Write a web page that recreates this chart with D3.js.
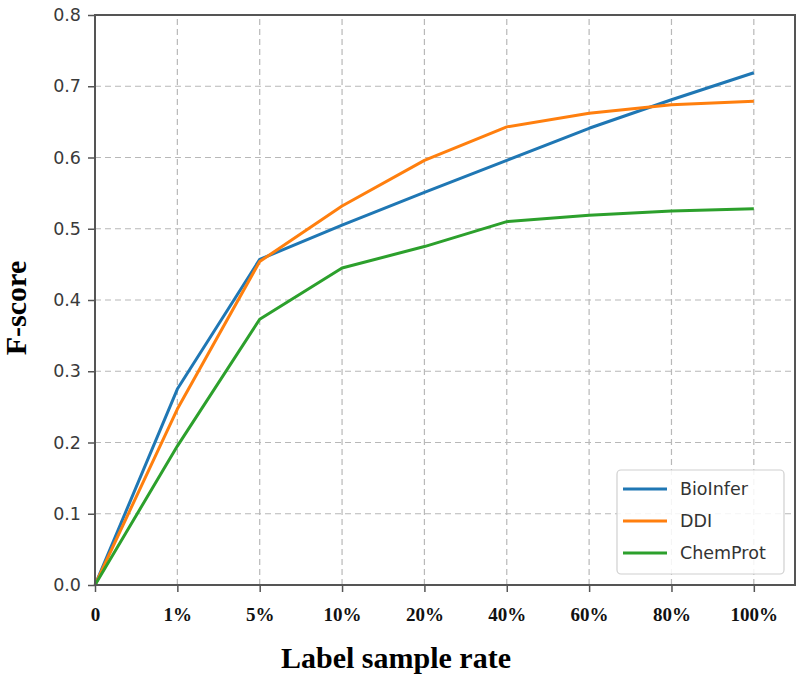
<!DOCTYPE html>
<html>
<head>
<meta charset="utf-8">
<script src="https://cdn.jsdelivr.net/npm/d3@7"></script>
<style>
  html, body { margin: 0; padding: 0; background: #fff; }
  svg { display: block; }
</style>
</head>
<body>
<svg id="chart" width="800" height="685"></svg>
<script>
const categories = ["0", "1%", "5%", "10%", "20%", "40%", "60%", "80%", "100%"];
const bioInfer = [0.0, 0.275, 0.457, 0.505, 0.551, 0.596, 0.641, 0.681, 0.719];
const ddi      = [0.0, 0.247, 0.454, 0.532, 0.596, 0.643, 0.662, 0.674, 0.679];
const chemProt = [0.0, 0.195, 0.373, 0.445, 0.475, 0.510, 0.519, 0.525, 0.528];
const seriesNames = ["BioInfer", "DDI", "ChemProt"];
const seriesColors = ["#1f77b4", "#ff7f0e", "#2ca02c"];
const yTicks = [0.0, 0.1, 0.2, 0.3, 0.4, 0.5, 0.6, 0.7, 0.8];

const series = [bioInfer, ddi, chemProt].map((vals, i) => ({
  name: seriesNames[i], color: seriesColors[i], values: vals
}));

const margin = { left: 95, right: 5, top: 15, bottom: 100 };
const W = 800, H = 685;
const svg = d3.select("#chart");

const x = d3.scaleLinear().domain([0, categories.length - 0.5]).range([margin.left, W - margin.right]);
const y = d3.scaleLinear().domain([0, 0.8]).range([H - margin.bottom, margin.top]);

// grid
const grid = svg.append("g");
grid.selectAll("line.v").data(categories.map((c, i) => i).slice(1)).join("line")
  .attr("x1", d => x(d)).attr("x2", d => x(d))
  .attr("y1", y(0)).attr("y2", y(0.8))
  .attr("stroke", "#b8b8b8").attr("stroke-width", 1.2).attr("stroke-dasharray", "6,4");
grid.selectAll("line.h").data(yTicks.slice(1, -1)).join("line")
  .attr("x1", x(0)).attr("x2", W - margin.right)
  .attr("y1", d => y(d)).attr("y2", d => y(d))
  .attr("stroke", "#b8b8b8").attr("stroke-width", 1.2).attr("stroke-dasharray", "6,4");

// lines
const line = d3.line().x((d, i) => x(i)).y(d => y(d));
svg.append("g").selectAll("path").data(series).join("path")
  .attr("d", d => line(d.values))
  .attr("fill", "none").attr("stroke", d => d.color)
  .attr("stroke-width", 3).attr("stroke-linejoin", "round");

// frame
svg.append("rect")
  .attr("x", x(0)).attr("y", y(0.8))
  .attr("width", W - margin.right - x(0)).attr("height", y(0) - y(0.8))
  .attr("fill", "none").attr("stroke", "#555").attr("stroke-width", 2);

// y axis
const yAxis = d3.axisLeft(y).tickValues(yTicks).tickFormat(d3.format(".1f")).tickSize(7).tickPadding(7);
const gy = svg.append("g").attr("transform", `translate(${x(0)},0)`).call(yAxis);
gy.select(".domain").remove();
gy.selectAll(".tick line").attr("stroke", "#555").attr("stroke-width", 1.5);
gy.selectAll(".tick text").attr("fill", "#3a3a3a")
  .style("font-family", "'DejaVu Sans', sans-serif").style("font-size", "17.5px");

// x axis
const xAxis = d3.axisBottom(x).tickValues(categories.map((c, i) => i))
  .tickFormat(i => categories[i]).tickSize(7).tickPadding(16);
const gx = svg.append("g").attr("transform", `translate(0,${y(0)})`).call(xAxis);
gx.select(".domain").remove();
gx.selectAll(".tick line").attr("stroke", "#555").attr("stroke-width", 1.5);
gx.selectAll(".tick text").attr("fill", "#111")
  .style("font-family", "'Liberation Serif', 'Times New Roman', serif")
  .style("font-weight", "bold").style("font-size", "19px");

// axis titles
svg.append("text").attr("x", 396).attr("y", 668).attr("text-anchor", "middle")
  .style("font-family", "'Liberation Serif', 'Times New Roman', serif")
  .style("font-weight", "bold").style("font-size", "30px").attr("fill", "#000")
  .text("Label sample rate");
svg.append("text").attr("transform", "translate(26,308) rotate(-90)").attr("text-anchor", "middle")
  .style("font-family", "'Liberation Serif', 'Times New Roman', serif")
  .style("font-weight", "bold").style("font-size", "30px").attr("fill", "#000")
  .text("F-score");

// legend
const lg = svg.append("g");
lg.append("rect").attr("x", 617).attr("y", 470).attr("width", 167).attr("height", 104)
  .attr("rx", 4).attr("fill", "#fff").attr("fill-opacity", 0.85)
  .attr("stroke", "#d0d0d0").attr("stroke-width", 1.2);
const items = lg.selectAll("g.item").data(series).join("g")
  .attr("transform", (d, i) => `translate(623,${489 + i * 32})`);
items.append("line").attr("x1", 0).attr("x2", 44).attr("y1", 0).attr("y2", 0)
  .attr("stroke", d => d.color).attr("stroke-width", 3);
items.append("text").attr("x", 57).attr("y", 0).attr("dy", "0.35em")
  .style("font-family", "'DejaVu Sans', sans-serif").style("font-size", "17.5px")
  .attr("fill", "#333").text(d => d.name);
</script>
</body>
</html>
